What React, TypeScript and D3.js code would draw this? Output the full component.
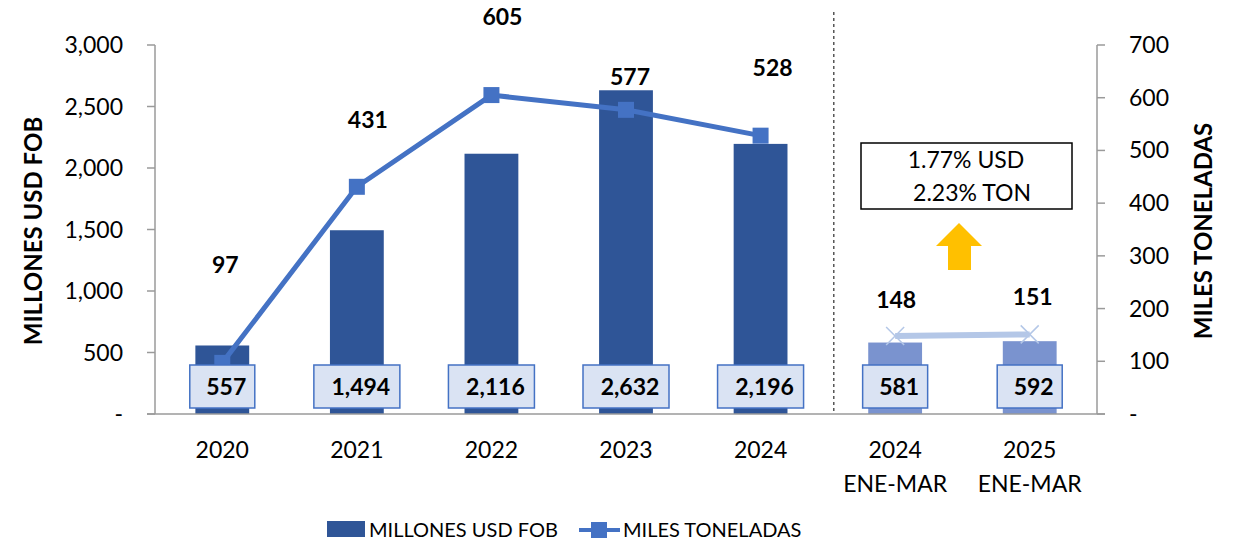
import { FC } from 'react';
import * as d3 from 'd3';

const categories = ['2020', '2021', '2022', '2023', '2024', '2024\nENE-MAR', '2025\nENE-MAR'];
const usdValues = [557, 1494, 2116, 2632, 2196, 581, 592];
const tonValues = [97, 431, 605, 577, 528, 148, 151];
const leftTicks = [0, 500, 1000, 1500, 2000, 2500, 3000];
const rightTicks = [0, 100, 200, 300, 400, 500, 600, 700];
const noteLines = ['1.77% USD', '2.23% TON'];

// manual label nudges (dx, dy above point) like the Excel layout
const tonLabelOffsets: [number, number][] = [
  [3, 98],
  [11, 67],
  [11, 78],
  [4, 33],
  [12, 68],
  [1, 36],
  [3, 37],
];

const FONT = 'Lato, "Open Sans", sans-serif';
const DARK = '#2F5597';
const LIGHT = '#7A93CF';
const LINE = '#4472C4';
const LINE_LIGHT = '#B4C7E7';

const W = 1234;
const H = 544;
const left = 155;
const right = 1097;
const top = 45;
const bottom = 414;

const fmt = d3.format(',');

const App: FC = () => {
  const x = d3
    .scaleBand<string>()
    .domain(categories)
    .range([left, right])
    .paddingInner(0.6)
    .paddingOuter(0.3);
  const yL = d3.scaleLinear().domain([0, 3000]).range([bottom, top]);
  const yR = d3.scaleLinear().domain([0, 700]).range([bottom, top]);
  const cx = (c: string) => (x(c) ?? 0) + x.bandwidth() / 2;

  const mainPts = categories.slice(0, 5).map((c, i) => [cx(c), yR(tonValues[i])] as [number, number]);
  const qPts = categories.slice(5).map((c, i) => [cx(c), yR(tonValues[i + 5])] as [number, number]);
  const line = d3.line();
  const divider = x.step() * 5 + left + 6;

  return (
    <svg width={W} height={H} style={{ position: 'absolute', left: 0, top: 0, background: '#fff' }} fontFamily={FONT}>
      {/* bars */}
      {categories.map((c, i) => (
        <rect
          key={c}
          x={x(c)}
          y={yL(usdValues[i])}
          width={x.bandwidth()}
          height={bottom - yL(usdValues[i])}
          fill={i < 5 ? DARK : LIGHT}
        />
      ))}

      {/* axes */}
      <line x1={left} x2={left} y1={top} y2={bottom} stroke="#9a9a9a" strokeWidth={1.5} />
      {leftTicks.map((t) => (
        <g key={t}>
          <line x1={left - 8} x2={left} y1={yL(t)} y2={yL(t)} stroke="#9a9a9a" strokeWidth={1.5} />
          <text x={123} y={yL(t)} dy="0.35em" textAnchor="end" fontSize={23}>
            {t === 0 ? '-' : fmt(t)}
          </text>
        </g>
      ))}
      <line x1={right} x2={right} y1={top} y2={bottom} stroke="#9a9a9a" strokeWidth={1.5} />
      {rightTicks.map((t) => (
        <g key={t}>
          <line x1={right} x2={right + 8} y1={yR(t)} y2={yR(t)} stroke="#9a9a9a" strokeWidth={1.5} />
          <text x={1129} y={yR(t)} dy="0.35em" textAnchor="start" fontSize={23}>
            {t === 0 ? '-' : t}
          </text>
        </g>
      ))}
      <line x1={left - 8} x2={right + 8} y1={bottom} y2={bottom} stroke="#9a9a9a" strokeWidth={1.5} />

      {/* axis titles */}
      <text transform={`translate(42,231) rotate(-90)`} textAnchor="middle" fontSize={24} fontWeight="bold">
        MILLONES USD FOB
      </text>
      <text transform={`translate(1212,231) rotate(-90)`} textAnchor="middle" fontSize={24} fontWeight="bold">
        MILES TONELADAS
      </text>

      {/* x labels */}
      {categories.map((c) =>
        c.split('\n').map((part, j) => (
          <text key={c + j} x={cx(c)} y={458 + j * 34} textAnchor="middle" fontSize={23}>
            {part}
          </text>
        ))
      )}

      {/* divider */}
      <line x1={divider} x2={divider} y1={12} y2={bottom} stroke="#000" strokeWidth={1} strokeDasharray="3,3" />

      {/* ton lines */}
      <path d={line(mainPts) ?? ''} fill="none" stroke={LINE} strokeWidth={5} />
      {mainPts.map(([px, py], i) => (
        <rect key={i} x={px - 8} y={py - 8} width={16} height={16} fill={LINE} />
      ))}
      <path d={line(qPts) ?? ''} fill="none" stroke={LINE_LIGHT} strokeWidth={6} />
      {qPts.map(([px, py], i) => (
        <path
          key={i}
          d={`M${px - 9},${py - 9}L${px + 9},${py + 9}M${px - 9},${py + 9}L${px + 9},${py - 9}`}
          stroke={LINE_LIGHT}
          strokeWidth={1.5}
        />
      ))}

      {/* bar value boxes */}
      {categories.map((c, i) => {
        const label = fmt(usdValues[i]);
        const bw = label.length > 3 ? 86 : 65;
        return (
          <g key={c}>
            <rect x={cx(c) - bw / 2} y={365} width={bw} height={43} fill="#DAE3F3" stroke={LINE} strokeWidth={1.5} />
            <text x={cx(c) + 4} y={387} dy="0.35em" textAnchor="middle" fontSize={23} fontWeight="bold">
              {label}
            </text>
          </g>
        );
      })}

      {/* ton value labels */}
      {categories.map((c, i) => (
        <text
          key={c}
          x={cx(c) + tonLabelOffsets[i][0]}
          y={yR(tonValues[i]) - tonLabelOffsets[i][1]}
          dy="0.35em"
          textAnchor="middle"
          fontSize={23}
          fontWeight="bold"
        >
          {tonValues[i]}
        </text>
      ))}

      {/* note box + arrow */}
      <rect x={861} y={143} width={211} height={66} fill="#fff" stroke="#000" strokeWidth={1.5} />
      {noteLines.map((t, i) => (
        <text key={t} x={966 + i * 6} y={160 + i * 33} dy="0.35em" textAnchor="middle" fontSize={23}>
          {t}
        </text>
      ))}
      <path d="M959,223L982,246L971,246L971,270L948,270L948,246L936,246Z" fill="#FFC000" />

      {/* legend */}
      <rect x={327} y={521} width={38} height={16} fill={DARK} />
      <text x={369} y={530} dy="0.35em" fontSize={20}>
        MILLONES USD FOB
      </text>
      <line x1={579} x2={620} y1={530} y2={530} stroke={LINE} strokeWidth={4} />
      <rect x={591} y={522} width={16} height={16} fill={LINE} />
      <text x={623} y={530} dy="0.35em" fontSize={20}>
        MILES TONELADAS
      </text>
    </svg>
  );
};

export default App;
